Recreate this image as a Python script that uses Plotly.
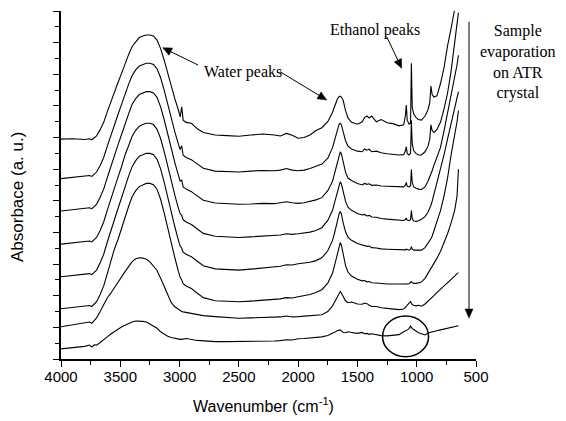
import math
import plotly.graph_objects as go

# Wavenumber grid shared by all spectra (cm-1)
wavenumber = [
    4000, 3900, 3800, 3760, 3740, 3720, 3700, 3670, 3640, 3610,
    3580, 3550, 3520, 3490, 3460, 3430, 3400, 3370, 3340, 3310,
    3280, 3250, 3220, 3190, 3160, 3130, 3100, 3070, 3040, 3010,
    2995, 2982, 2970, 2945, 2920, 2900, 2875, 2850, 2800, 2700,
    2600, 2500, 2400, 2300, 2200, 2150, 2100, 2050, 2000, 1950,
    1900, 1850, 1800, 1750, 1710, 1690, 1670, 1655, 1645, 1635,
    1620, 1600, 1580, 1550, 1500, 1460, 1440, 1420, 1400, 1380,
    1340, 1300, 1250, 1200, 1150, 1110, 1095, 1088, 1080, 1065,
    1052, 1045, 1038, 1025, 1005, 985, 960, 930, 905, 890,
    880, 870, 855, 830, 800, 770, 740, 710, 680, 660, 648,
]

# Stacked absorbance spectra, first scan (top) to last scan (bottom)
abs_1 = [
    6.95, 6.96, 6.94, 6.96, 6.93, 6.98, 7.05, 7.25, 7.48, 7.81,
    8.13, 8.46, 8.73, 9.02, 9.35, 9.62, 9.88, 10.04, 10.16, 10.21,
    10.24, 10.24, 10.21, 10.08, 9.81, 9.45, 9.02, 8.60, 8.23, 7.87,
    7.65, 7.97, 7.55, 7.48, 7.45, 7.45, 7.36, 7.28, 7.16, 7.08,
    7.06, 7.04, 7.08, 7.11, 7.08, 7.05, 7.13, 7.07, 6.98, 7.00,
    7.08, 7.22, 7.31, 7.50, 7.80, 8.02, 8.21, 8.29, 8.31, 8.28,
    8.17, 7.85, 7.62, 7.48, 7.42, 7.50, 7.63, 7.68, 7.62, 7.68,
    7.50, 7.57, 7.47, 7.44, 7.37, 7.40, 7.70, 8.03, 7.55, 7.43,
    7.45, 9.35, 7.95, 7.74, 7.63, 7.57, 7.55, 7.68, 7.88, 8.10,
    8.63, 8.36, 8.28, 8.32, 8.70, 9.20, 9.90, 10.45, 11.00, 11.40, 11.70,
]
abs_2 = [
    5.70, 5.74, 5.77, 5.80, 5.77, 5.84, 5.91, 6.12, 6.37, 6.72,
    7.08, 7.43, 7.72, 8.04, 8.39, 8.68, 8.96, 9.14, 9.26, 9.31,
    9.35, 9.35, 9.31, 9.17, 8.89, 8.50, 8.04, 7.58, 7.18, 6.79,
    6.62, 6.74, 6.44, 6.37, 6.33, 6.30, 6.23, 6.16, 6.03, 5.94,
    5.92, 5.91, 5.94, 5.96, 5.95, 5.97, 6.02, 5.97, 5.95, 5.97,
    6.02, 6.08, 6.16, 6.35, 6.68, 6.95, 7.25, 7.42, 7.45, 7.40,
    7.18, 6.90, 6.73, 6.64, 6.57, 6.55, 6.64, 6.60, 6.63, 6.55,
    6.57, 6.52, 6.49, 6.47, 6.45, 6.46, 6.58, 6.71, 6.50, 6.45,
    6.50, 7.55, 6.80, 6.58, 6.49, 6.45, 6.45, 6.55, 6.72, 6.95,
    7.40, 7.22, 7.16, 7.25, 7.48, 7.90, 8.40, 9.10, 9.90, 10.60, 10.95,
]
abs_3 = [
    4.68, 4.72, 4.75, 4.78, 4.75, 4.82, 4.89, 5.11, 5.37, 5.73,
    6.10, 6.47, 6.76, 7.09, 7.46, 7.75, 8.05, 8.23, 8.36, 8.41,
    8.45, 8.45, 8.41, 8.27, 7.97, 7.57, 7.09, 6.62, 6.21, 5.81,
    5.62, 5.65, 5.44, 5.37, 5.33, 5.29, 5.22, 5.15, 5.02, 4.93,
    4.91, 4.89, 4.90, 4.92, 4.91, 4.93, 4.97, 4.94, 4.92, 4.94,
    4.98, 5.03, 5.10, 5.32, 5.62, 5.90, 6.25, 6.48, 6.55, 6.48,
    6.20, 5.90, 5.72, 5.64, 5.55, 5.50, 5.55, 5.52, 5.54, 5.49,
    5.50, 5.47, 5.46, 5.45, 5.44, 5.44, 5.50, 5.58, 5.46, 5.44,
    5.48, 5.99, 5.58, 5.44, 5.40, 5.37, 5.36, 5.44, 5.62, 5.74,
    5.85, 5.95, 6.12, 6.38, 6.68, 7.20, 7.75, 8.30, 8.90, 9.30, 9.60,
]
abs_4 = [
    3.63, 3.67, 3.70, 3.73, 3.70, 3.77, 3.84, 4.06, 4.33, 4.70,
    5.07, 5.44, 5.74, 6.07, 6.45, 6.74, 7.04, 7.23, 7.36, 7.41,
    7.45, 7.45, 7.41, 7.26, 6.97, 6.56, 6.07, 5.59, 5.18, 4.77,
    4.59, 4.54, 4.40, 4.33, 4.29, 4.25, 4.18, 4.10, 3.97, 3.88,
    3.86, 3.84, 3.86, 3.88, 3.90, 3.92, 3.96, 3.94, 3.96, 3.98,
    4.01, 4.06, 4.15, 4.38, 4.70, 4.98, 5.30, 5.52, 5.60, 5.53,
    5.25, 4.98, 4.80, 4.70, 4.60, 4.55, 4.57, 4.52, 4.54, 4.49,
    4.48, 4.44, 4.42, 4.41, 4.39, 4.38, 4.41, 4.46, 4.39, 4.37,
    4.40, 4.69, 4.44, 4.36, 4.35, 4.37, 4.42, 4.50, 4.64, 4.75,
    4.86, 4.98, 5.20, 5.52, 5.95, 6.45, 6.95, 7.45, 7.90, 8.20, 8.45,
]
abs_5 = [
    2.60, 2.64, 2.67, 2.70, 2.67, 2.74, 2.81, 3.04, 3.31, 3.69,
    4.07, 4.45, 4.75, 5.09, 5.47, 5.78, 6.08, 6.27, 6.41, 6.46,
    6.50, 6.50, 6.46, 6.31, 6.01, 5.59, 5.09, 4.60, 4.18, 3.76,
    3.57, 3.50, 3.38, 3.31, 3.27, 3.23, 3.16, 3.08, 2.95, 2.85,
    2.83, 2.81, 2.84, 2.87, 2.91, 2.93, 2.98, 2.97, 3.01, 3.03,
    3.06, 3.11, 3.20, 3.42, 3.75, 4.03, 4.36, 4.58, 4.66, 4.58,
    4.30, 4.02, 3.85, 3.75, 3.65, 3.60, 3.60, 3.56, 3.57, 3.52,
    3.51, 3.48, 3.47, 3.46, 3.45, 3.44, 3.45, 3.47, 3.45, 3.44,
    3.47, 3.55, 3.47, 3.44, 3.44, 3.43, 3.44, 3.52, 3.65, 3.72,
    3.80, 3.88, 4.05, 4.33, 4.68, 5.15, 5.72, 6.45, 7.05, 7.50, 7.85,
]
abs_6 = [
    1.59, 1.63, 1.66, 1.69, 1.66, 1.73, 1.81, 2.04, 2.31, 2.69,
    3.08, 3.47, 3.77, 4.12, 4.51, 4.82, 5.13, 5.32, 5.45, 5.51,
    5.55, 5.55, 5.51, 5.36, 5.05, 4.62, 4.12, 3.62, 3.20, 2.77,
    2.58, 2.50, 2.38, 2.31, 2.27, 2.23, 2.15, 2.08, 1.94, 1.84,
    1.83, 1.81, 1.83, 1.85, 1.88, 1.90, 1.94, 1.93, 1.97, 2.00,
    2.04, 2.10, 2.19, 2.40, 2.72, 3.00, 3.35, 3.60, 3.68, 3.60,
    3.30, 2.95, 2.75, 2.62, 2.52, 2.47, 2.48, 2.44, 2.45, 2.41,
    2.40, 2.38, 2.37, 2.37, 2.36, 2.36, 2.37, 2.38, 2.37, 2.38,
    2.42, 2.45, 2.41, 2.39, 2.39, 2.40, 2.43, 2.55, 2.70, 2.78,
    2.84, 2.90, 3.02, 3.18, 3.40, 3.66, 3.96, 4.30, 4.70, 5.15, 6.00,
]
abs_7 = [
    1.02, 1.08, 1.13, 1.17, 1.13, 1.20, 1.30, 1.50, 1.72, 1.93,
    2.08, 2.26, 2.42, 2.58, 2.76, 2.92, 3.08, 3.17, 3.20, 3.19,
    3.15, 3.07, 2.95, 2.80, 2.55, 2.30, 2.02, 1.78, 1.65, 1.56,
    1.53, 1.50, 1.49, 1.47, 1.45, 1.43, 1.41, 1.39, 1.37, 1.34,
    1.31, 1.29, 1.30, 1.31, 1.32, 1.33, 1.36, 1.33, 1.34, 1.35,
    1.36, 1.38, 1.40, 1.50, 1.68, 1.82, 1.98, 2.10, 2.13, 2.08,
    1.96, 1.84, 1.78, 1.80, 1.74, 1.73, 1.77, 1.75, 1.70, 1.66,
    1.66, 1.62, 1.60, 1.58, 1.56, 1.58, 1.62, 1.66, 1.70, 1.76,
    1.81, 1.77, 1.72, 1.70, 1.68, 1.70, 1.67, 1.74, 1.82, 1.87,
    1.90, 1.94, 2.00, 2.10, 2.20, 2.32, 2.42, 2.52, 2.62, 2.70, 2.73,
]
abs_8 = [
    0.32, 0.35, 0.40, 0.44, 0.38, 0.45, 0.44, 0.52, 0.60, 0.70,
    0.79, 0.87, 0.94, 1.01, 1.07, 1.13, 1.17, 1.20, 1.20, 1.19,
    1.17, 1.10, 1.04, 0.97, 0.86, 0.78, 0.72, 0.68, 0.65, 0.62,
    0.62, 0.62, 0.63, 0.65, 0.63, 0.61, 0.60, 0.59, 0.57, 0.55,
    0.55, 0.55, 0.56, 0.56, 0.57, 0.58, 0.61, 0.60, 0.64, 0.65,
    0.66, 0.68, 0.70, 0.74, 0.80, 0.85, 0.89, 0.92, 0.92, 0.89,
    0.84, 0.83, 0.86, 0.84, 0.81, 0.84, 0.80, 0.81, 0.78, 0.80,
    0.77, 0.74, 0.73, 0.75, 0.77, 0.86, 0.88, 0.90, 0.92, 0.96,
    1.04, 1.00, 0.96, 0.93, 0.88, 0.83, 0.80, 0.76, 0.82, 0.83,
    0.84, 0.85, 0.87, 0.89, 0.92, 0.95, 0.98, 1.00, 1.02, 1.04, 1.05,
]

spectra = [abs_1, abs_2, abs_3, abs_4, abs_5, abs_6, abs_7, abs_8]
for s in spectra:
    assert len(s) == len(wavenumber), len(s)

x_ticks = [4000, 3500, 3000, 2500, 2000, 1500, 1000, 500]

serif = "Liberation Serif"
sans = "Liberation Sans"

# figure geometry (pixels) used to place the call-out arrows and labels
W, H = 566, 421
ML, MR, MT, MB = 61, 90, 11, 62
PW, PH = W - ML - MR, H - MT - MB


def px_to_paper(px, py):
    return (px - ML) / PW, (H - MB - py) / PH


def arrow_shapes(tail, head, length=9.0, half_width=4.0):
    """Line plus filled triangular head, given pixel positions."""
    dx, dy = head[0] - tail[0], head[1] - tail[1]
    d = math.hypot(dx, dy)
    ux, uy = dx / d, dy / d
    bx, by = head[0] - length * ux, head[1] - length * uy
    nx, ny = -uy, ux
    t0 = px_to_paper(*tail)
    b0 = px_to_paper(bx, by)
    h0 = px_to_paper(*head)
    p1 = px_to_paper(bx + half_width * nx, by + half_width * ny)
    p2 = px_to_paper(bx - half_width * nx, by - half_width * ny)
    line = dict(type="line", xref="paper", yref="paper",
                x0=t0[0], y0=t0[1], x1=b0[0], y1=b0[1],
                line=dict(color="black", width=1))
    tri = dict(type="path", xref="paper", yref="paper",
               path=f"M {h0[0]},{h0[1]} L {p1[0]},{p1[1]} L {p2[0]},{p2[1]} Z",
               fillcolor="black", line=dict(color="black", width=0.5))
    return [line, tri]


fig = go.Figure()
for s in spectra:
    fig.add_trace(go.Scatter(
        x=wavenumber, y=s, mode="lines",
        line=dict(color="black", width=1.1),
        showlegend=False, hoverinfo="skip",
    ))

shapes = [dict(type="circle", xref="x", yref="y", x0=1288, x1=900,
               y0=0.07, y1=1.36, line=dict(color="black", width=1.5))]
shapes += arrow_shapes((198, 65), (162.7, 47.7))      # water band (O-H stretch)
shapes += arrow_shapes((280, 71.7), (326.7, 100))     # water band (H-O-H bend)
shapes += arrow_shapes((386.7, 36.7), (401.7, 68.3))  # ethanol C-O band
shapes += arrow_shapes((469, 21.7), (469, 318))       # evaporation direction


def label(px, py, text, family, size, angle=0):
    x, y = px_to_paper(px, py)
    return dict(x=x, y=y, xref="paper", yref="paper", text=text,
                showarrow=False, xanchor="center", yanchor="middle",
                align="center", textangle=angle,
                font=dict(family=family, size=size, color="black"))


annotations = [
    label(243, 72, "Water peaks", serif, 16),
    label(374.5, 30, "Ethanol peaks", serif, 16),
    label(518, 62, "Sample<br>evaporation<br>on ATR<br>crystal", serif, 16),
    label(17, 197, "Absorbace (a. u.)", sans, 17, angle=-90),
    label(263.3, 405, "Wavenumber (cm<sup>-1</sup>)", sans, 16),
]

fig.update_layout(
    width=W, height=H,
    margin=dict(l=ML, r=MR, t=MT, b=MB),
    paper_bgcolor="white", plot_bgcolor="white",
    annotations=annotations,
    shapes=shapes,
)
fig.update_xaxes(
    range=[4000, 500], tickvals=x_ticks, ticks="outside", ticklen=6,
    tickwidth=1.3, tickcolor="black", showline=True, linewidth=1.5,
    linecolor="black", showgrid=False, zeroline=False,
    ticklabelstandoff=-3,
    tickfont=dict(family=sans, size=15, color="black"),
    minor=dict(dtick=250, ticks="outside", ticklen=4, tickwidth=1.3,
               tickcolor="black", showgrid=False),
)
fig.update_yaxes(
    range=[0, 11], dtick=1, ticks="outside", ticklen=6, tickwidth=1.3,
    tickcolor="black", showline=True, linewidth=1.5, linecolor="black",
    showgrid=False, zeroline=False, showticklabels=False,
    minor=dict(dtick=0.5, ticks="outside", ticklen=4, tickwidth=1.3,
               tickcolor="black", showgrid=False),
)

fig.write_html("out.html")
